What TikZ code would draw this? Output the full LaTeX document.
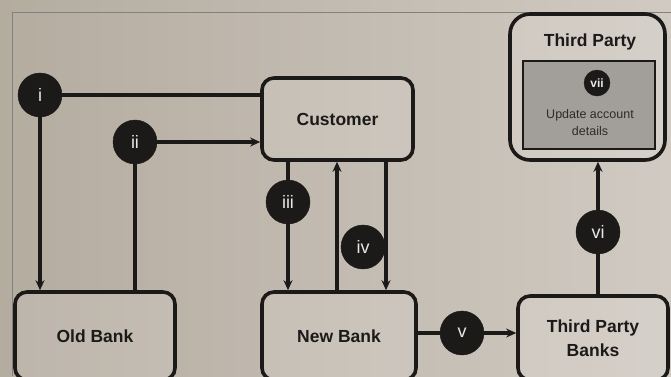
\documentclass[tikz,border=0pt]{standalone}
\usepackage{fontspec}
\setmainfont{Liberation Sans}
\usetikzlibrary{arrows.meta,calc}
\definecolor{ink}{HTML}{1B1A19}
\definecolor{bgl}{HTML}{B5ACA0}
\definecolor{bgr}{HTML}{D0CAC2}
\definecolor{innerg}{HTML}{A29E99}
\tikzset{
  box/.style={draw=ink, line width=3.6pt, rounded corners=12pt, fill=white, fill opacity=0.12, text opacity=1, text=ink, align=center, font=\fontsize{17.5}{24}\selectfont\bfseries},
  badge/.style={circle, fill=ink, draw=ink, minimum size=44pt, inner sep=0pt, text=white!90!ink, font=\fontsize{18}{20}\selectfont},
  conn/.style={draw=ink, line width=3.4pt},
  arr/.style={conn, -{Stealth[length=10pt,width=9pt]}}
}
\begin{document}
\begin{tikzpicture}[x=1pt,y=-1pt]
\useasboundingbox (0,0) rectangle (671,376);
\shade[left color=bgl, right color=bgr] (0,0) rectangle (671,376);
\draw[line width=1pt, color=ink!55] (12,376) -- (12,12) -- (671,12);
% boxes
\node[box, minimum width=151pt, minimum height=82pt] (cust) at (337.5,119) {Customer};
\node[box, minimum width=160pt, minimum height=88pt] (ob) at (95,336) {Old Bank};
\node[box, minimum width=154pt, minimum height=88pt] (nb) at (339,336) {New Bank};
\node[box, minimum width=150pt, minimum height=84pt] (tpb) at (593,338) {Third Party\\Banks};
\node[box, minimum width=155pt, minimum height=146pt, rounded corners=20pt] (tp) at (587.5,87) {};
\node[text=ink, font=\fontsize{17.5}{20}\selectfont\bfseries] (tpt) at (590,42) {Third Party};
\node[draw=ink, line width=2pt, fill=innerg, minimum width=132pt, minimum height=88pt] (inner) at (589,105) {};
\node[badge, minimum size=26pt, font=\fontsize{12}{12}\selectfont\bfseries] (b7) at (597,83) {vii};
\node[text=ink!92, align=center, font=\fontsize{12.5}{17}\selectfont] (upd) at (590,123) {Update account\\details};
% coordinates
\coordinate (c3) at (288,0);
\coordinate (c4a) at (337,0);
\coordinate (c4b) at (386,0);
% connectors
\node[badge] (b1) at (40,95) {i};
\node[badge] (b2) at (135,142) {ii};
\node[badge] (b3) at (288,202) {iii};
\node[badge] (b5) at (462,333) {v};
\node[badge] (b6) at (598,232) {vi};
\draw[conn] (b1) -- (b1 -| cust.west);
\draw[arr] (b1) -- (b1 |- ob.north);
\draw[arr] (b2) -- (b2 -| cust.west);
\draw[conn] (b2 |- ob.north) -- (b2);
\draw[conn] (c3 |- cust.south) -- (b3);
\draw[arr] (b3) -- (c3 |- nb.north);
\draw[arr] (c4a |- nb.north) -- (c4a |- cust.south);
\draw[arr] (c4b |- cust.south) -- (c4b |- nb.north);
\node[badge] (b4) at (363,247) {iv};
\draw[conn] (nb.east |- b5) -- (b5);
\draw[arr] (b5) -- (b5 -| tpb.west);
\draw[conn] (b6 |- tpb.north) -- (b6);
\draw[arr] (b6) -- (b6 |- tp.south);
\end{tikzpicture}
\end{document}
